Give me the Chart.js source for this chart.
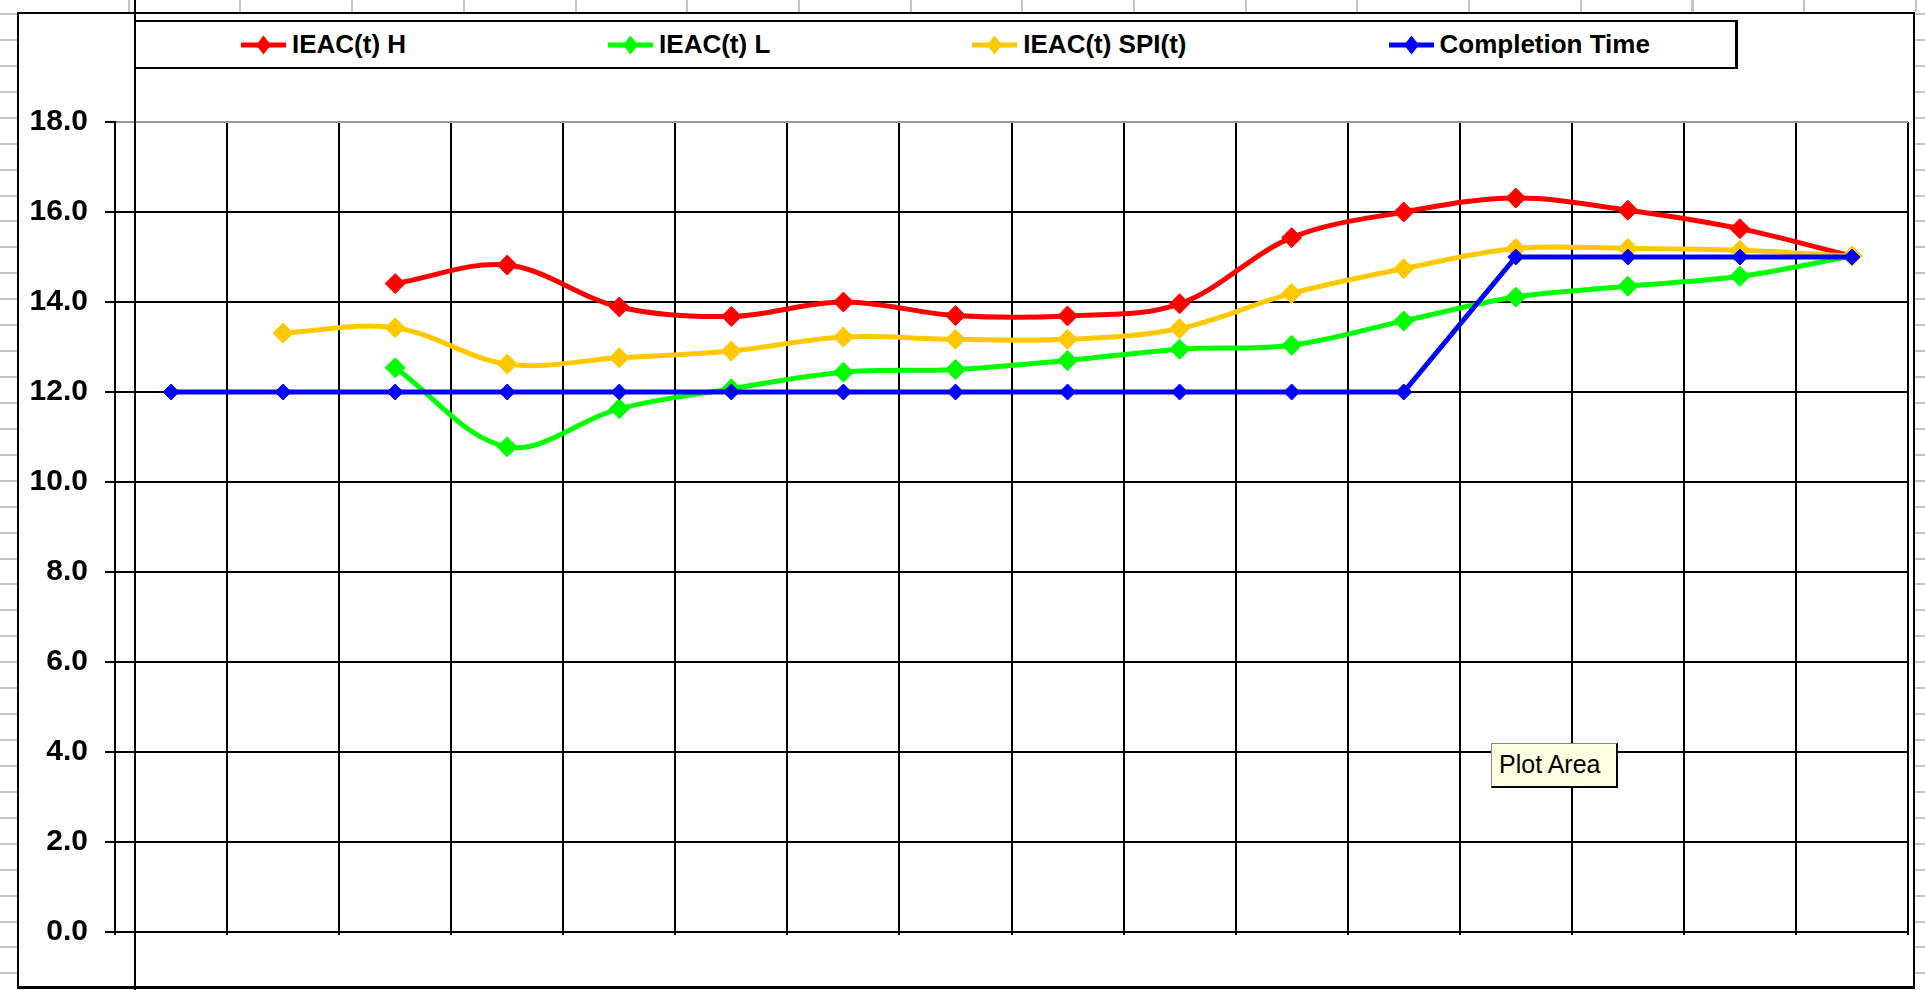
<!DOCTYPE html>
<html>
<head>
<meta charset="utf-8">
<title>IEAC(t) forecasts</title>
<script src="https://cdn.jsdelivr.net/npm/chart.js@4.4.1/dist/chart.umd.min.js"></script>
<style>
  html, body { margin: 0; padding: 0; }
  body {
    position: relative;
    width: 1925px;
    height: 990px;
    overflow: hidden;
    background-color: #fff;
    /* sheet row lines showing around the chart object */
    background-image: repeating-linear-gradient(180deg, transparent 0, transparent 13px, #c4c4c4 13px, #c4c4c4 15px, transparent 15px, transparent 25.93px);
  }
  #columns {
    position: absolute; left: 20px; top: 0; width: 1905px; height: 12px;
    background-image: repeating-linear-gradient(90deg, transparent 0, transparent 107.7px, #c4c4c4 107.7px, #c4c4c4 109.7px, transparent 109.7px, transparent 111.7px);
  }
  #frame {
    position: absolute; left: 17px; top: 12px; width: 1898px; height: 977px;
    box-sizing: border-box; background: #fff;
    border: 2px solid #000; border-bottom-width: 3px;
  }
  #wrap { position: absolute; left: 0; top: 0; width: 1925px; height: 990px; }
  #divider { position: absolute; left: 134px; top: 0; width: 2px; height: 990px; background: #000; }
  #legend {
    position: absolute; left: 134px; top: 20px; width: 1604px; height: 49px;
    box-sizing: border-box; background: #fff;
    border: 2px solid #000; border-right-width: 3px;
    display: flex; align-items: center; padding-left: 105px; gap: 202px;
    font: bold 26px "Liberation Sans", Arial, sans-serif; color: #000;
  }
  #legend .item { display: flex; align-items: center; white-space: nowrap; }
  #legend .item span { margin-left: 6px; }
  #tip {
    position: absolute; left: 1491px; top: 743px; width: 127px; height: 45px;
    box-sizing: border-box; background: #ffffe1;
    border: 1px solid #888; border-right: 2px solid #000; border-bottom: 2px solid #000;
    font: 25px "Liberation Sans", Arial, sans-serif; line-height: 41px; padding-left: 7px;
  }
</style>
</head>
<body>
<div id="columns"></div>
<div id="frame"></div>
<div id="wrap"><canvas id="ieacChart"></canvas></div>
<div id="divider"></div>
<div id="legend"></div>
<div id="tip">Plot Area</div>
<script>
const periods = ["1", "2", "3", "4", "5", "6", "7", "8", "9", "10", "11", "12", "13", "14", "15", "16"];

const ieacHigh = [null, null, 14.41, 14.82, 13.89, 13.68, 14.0, 13.7, 13.69, 13.96, 15.43, 16.0, 16.31, 16.04, 15.63, 15.02];
const ieacLow = [null, null, 12.54, 10.78, 11.63, 12.07, 12.44, 12.5, 12.7, 12.95, 13.04, 13.58, 14.11, 14.35, 14.57, 15.02];
const ieacSpi = [null, 13.31, 13.43, 12.62, 12.76, 12.91, 13.22, 13.17, 13.17, 13.41, 14.19, 14.74, 15.19, 15.19, 15.15, 15.02];
const completionTime = [12, 12, 12, 12, 12, 12, 12, 12, 12, 12, 12, 12, 15, 15, 15, 15];

const seriesNames = ["IEAC(t) H", "IEAC(t) L", "IEAC(t) SPI(t)", "Completion Time"];
const seriesColors = ["#ff0000", "#00ff00", "#ffc800", "#0000ff"];

const fontFamily = '"Liberation Sans", Arial, sans-serif';

const makeSeries = (index, data, tension, radius, order) => ({
  label: seriesNames[index],
  data: data,
  borderColor: seriesColors[index],
  backgroundColor: seriesColors[index],
  borderWidth: 5,
  tension: tension,
  pointStyle: "rectRot",
  pointRadius: radius,
  pointBackgroundColor: seriesColors[index],
  pointBorderColor: seriesColors[index],
  pointBorderWidth: 1,
  order: order,
});

const ctx = document.getElementById("ieacChart").getContext("2d");

const chart = new Chart(ctx, {
  type: "line",
  data: {
    labels: periods,
    datasets: [
      makeSeries(0, ieacHigh, 0.35, 10, 4),
      makeSeries(1, ieacLow, 0.35, 10, 3),
      makeSeries(2, ieacSpi, 0.35, 10, 2),
      makeSeries(3, completionTime, 0, 8, 1),
    ],
  },
  options: {
    responsive: true,
    maintainAspectRatio: false,
    devicePixelRatio: 1,
    animation: false,
    events: [],
    layout: {
      padding: { left: 0, right: 17, top: 122, bottom: 55 },
    },
    plugins: {
      legend: { display: false },
      tooltip: { enabled: false },
    },
    scales: {
      x: {
        offset: true,
        grid: {
          offset: true,
          color: (c) => (c.index === periods.length ? "#999999" : "#000000"),
          lineWidth: 2,
          drawTicks: true,
          tickLength: 3,
          tickColor: "#000000",
        },
        border: { color: "#000000", width: 2 },
        ticks: { display: false },
      },
      y: {
        min: 0,
        max: 18,
        afterFit: (scale) => {
          scale.width = 115;
        },
        grid: {
          color: (c) => (c.tick && c.tick.value === 18 ? "#999999" : "#000000"),
          lineWidth: 2,
          tickLength: 10,
          tickColor: "#000000",
        },
        border: { color: "#000000", width: 2 },
        ticks: {
          stepSize: 2,
          padding: 17,
          color: "#000000",
          font: { family: fontFamily, size: 30, weight: "bold" },
          callback: (value) => value.toFixed(1),
        },
      },
    },
  },
});

// html legend: line with a diamond, then the series name
const legendEl = document.getElementById("legend");
chart.data.datasets.forEach((ds) => {
  const item = document.createElement("div");
  item.className = "item";
  item.innerHTML =
    '<svg width="45" height="22" viewBox="0 0 45 22">' +
    '<line x1="0" y1="11" x2="45" y2="11" stroke="' + ds.borderColor + '" stroke-width="5"/>' +
    '<polygon points="22.5,1.5 30,11 22.5,20.5 15,11" fill="' + ds.borderColor + '"/>' +
    "</svg><span>" + ds.label + "</span>";
  legendEl.appendChild(item);
});
</script>
</body>
</html>
